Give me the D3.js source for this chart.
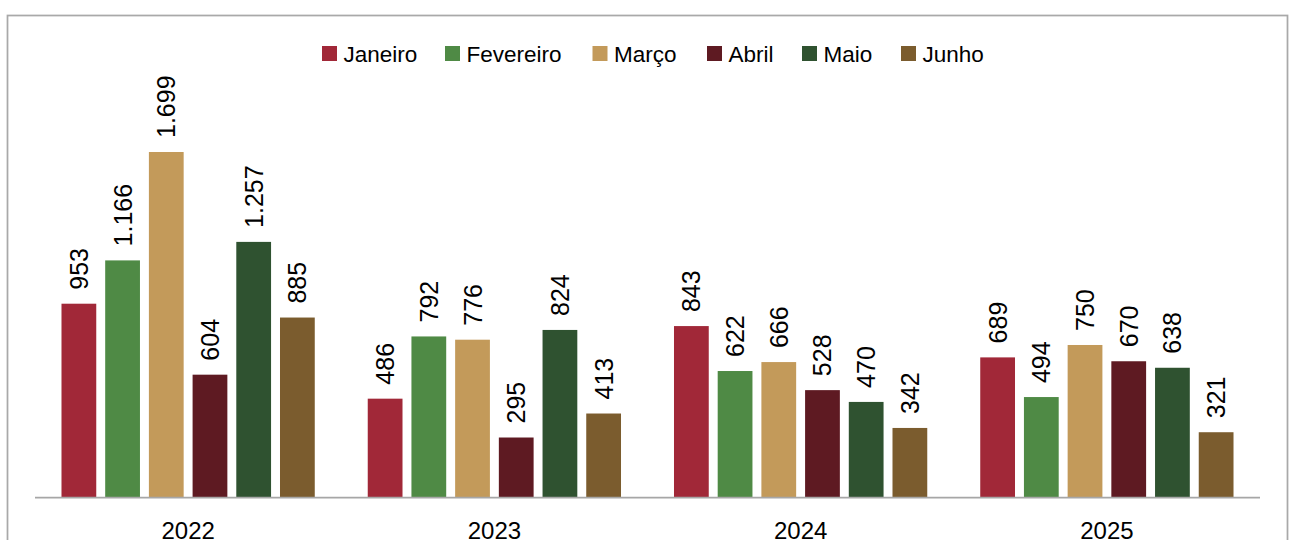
<!DOCTYPE html>
<html><head><meta charset="utf-8">
<script src="https://cdn.jsdelivr.net/npm/d3@7"></script>
<style>html,body{margin:0;padding:0;background:#fff;}svg{display:block;}</style>
</head><body>
<script>
const years = ["2022","2023","2024","2025"];
const months = ["Janeiro","Fevereiro","Março","Abril","Maio","Junho"];
const colors = ["#a12838","#4f8a45","#c39a5a","#5e1a22","#2f5230","#7b5c2e"];
const janeiro   = [953, 486, 843, 689];
const fevereiro = [1166, 792, 622, 494];
const marco     = [1699, 776, 666, 750];
const abril     = [604, 295, 528, 670];
const maio      = [1257, 824, 470, 638];
const junho     = [885, 413, 342, 321];
const series = [janeiro, fevereiro, marco, abril, maio, junho];

const W = 1292, H = 540;
const svg = d3.select("body").append("svg").attr("width", W).attr("height", H);
const font = "'Liberation Sans', Arial, sans-serif";

// chart border
svg.append("rect").attr("x", 7.5).attr("y", 15.5).attr("width", 1280).attr("height", 560)
  .attr("fill", "none").attr("stroke", "#a9a9a9").attr("stroke-width", 1.75);

const x0 = d3.scaleBand().domain(years).range([35, 1260]).paddingInner(0.173).paddingOuter(0.0865);
const x1 = d3.scaleBand().domain(months).range([0, x0.bandwidth()]).paddingInner(0.2045).paddingOuter(0);
const y = d3.scaleLinear().domain([0, 2000]).range([497.5, 90.8]);

const loc = d3.formatLocale({decimal: ",", thousands: ".", grouping: [3], currency: ["R$", ""]});
const fmt = loc.format(",d");

const rows = [];
years.forEach((yr, i) => months.forEach((m, j) => rows.push({yr, m, j, v: series[j][i]})));

svg.append("g").selectAll("rect").data(rows).join("rect")
  .attr("x", d => x0(d.yr) + x1(d.m))
  .attr("y", d => y(d.v))
  .attr("width", x1.bandwidth())
  .attr("height", d => y(0) - y(d.v))
  .attr("fill", d => colors[d.j]);

svg.append("g").selectAll("text").data(rows).join("text")
  .attr("transform", d => `translate(${x0(d.yr) + x1(d.m) + x1.bandwidth()/2 + 9},${y(d.v) - 14}) rotate(-90)`)
  .attr("text-anchor", "start")
  .attr("font-family", font).attr("font-size", 25).attr("fill", "#000")
  .text(d => fmt(d.v));

// axis
const xAxis = d3.axisBottom(x0).tickSize(0).tickPadding(0);
const ag = svg.append("g").attr("transform", `translate(0,${y(0)})`).call(xAxis);
ag.select(".domain").attr("stroke", "#a6a6a6").attr("stroke-width", 1.75).attr("d", "M35,0H1260");
ag.selectAll("text").attr("font-family", font).attr("font-size", 24).attr("fill", "#000")
  .attr("dy", null).attr("y", 41);

// legend
const legendX = [322, 445, 592.5, 707, 802, 901];
const lg = svg.append("g");
months.forEach((m, j) => {
  lg.append("rect").attr("x", legendX[j]).attr("y", 46).attr("width", 15).attr("height", 15).attr("fill", colors[j]);
  lg.append("text").attr("x", legendX[j] + 21.5).attr("y", 61.5)
    .attr("font-family", font).attr("font-size", 22.5).attr("fill", "#000").text(m);
});
</script>
</body></html>
